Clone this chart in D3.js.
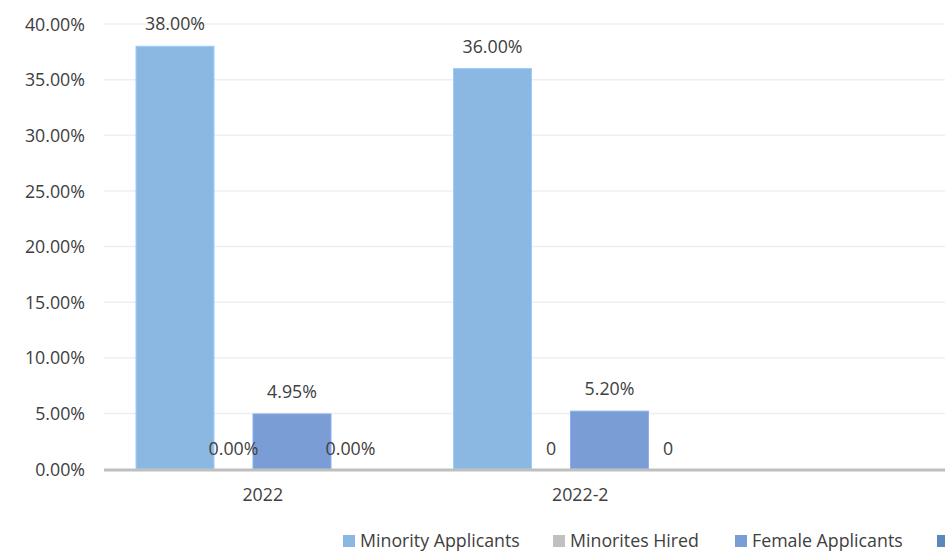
<!DOCTYPE html>
<html><head><meta charset="utf-8">
<script src="https://cdn.jsdelivr.net/npm/d3@7"></script>
<style>body{margin:0;background:#fff;overflow:hidden}svg{display:block}text{font-family:"Open Sans",sans-serif;fill:#404040}</style>
</head><body>
<script>
const categories = ["2022", "2022-2"];
const seriesNames = ["Minority Applicants", "Minorites Hired", "Female Applicants", "Females Hired"];
const seriesColors = ["#8bb8e2", "#c0c0c0", "#7b9dd5", "#5b87bd"];
const values = [
  [0.38, 0.0, 0.0495, 0.0],
  [0.36, 0.0, 0.052, 0.0]
];
const valueLabels = [
  ["38.00%", "0.00%", "4.95%", "0.00%"],
  ["36.00%", "0", "5.20%", "0"]
];
const yTicks = [0, 0.05, 0.10, 0.15, 0.20, 0.25, 0.30, 0.35, 0.40];

const W = 945, H = 552, FS = "17.8px";
const plotLeft = 104, plotTop = 24, plotBottom = 469, step = 317.5;
const svg = d3.select("body").append("svg").attr("width", W).attr("height", H);

const y = d3.scaleLinear().domain([0, 0.40]).range([plotBottom, plotTop]);
const x = d3.scaleBand().domain(categories).range([plotLeft, plotLeft + step * categories.length]).paddingInner(0).paddingOuter(0);
const barW = 78, overlapStep = 58.5;
const groupSpan = overlapStep * (seriesNames.length - 1) + barW;
const xs = d3.scaleLinear().domain([0, seriesNames.length - 1]).range([-groupSpan / 2 + barW / 2, groupSpan / 2 - barW / 2]);

// gridlines
svg.append("g").selectAll("line").data(yTicks.filter(t => t > 0)).join("line")
  .attr("x1", plotLeft).attr("x2", W).attr("y1", d => y(d)).attr("y2", d => y(d))
  .attr("stroke", "#efefef").attr("stroke-width", 1.5);

// y axis labels
const yAxis = d3.axisLeft(y).tickValues(yTicks).tickFormat(d3.format(".2%")).tickSize(0).tickPadding(0);
const ya = svg.append("g").attr("transform", `translate(${plotLeft - 19},0)`).call(yAxis);
ya.select(".domain").remove();
ya.selectAll("text").style("font-size", FS).attr("fill", "#404040").attr("dy", "0.35em").attr("font-family", null);

// bars
categories.forEach((c, ci) => {
  const cx = x(c) + x.bandwidth() / 2;
  const g = svg.append("g");
  seriesNames.forEach((s, si) => {
    const v = values[ci][si];
    const bx = cx + xs(si) - barW / 2;
    if (v > 0) {
      g.append("rect").attr("x", bx).attr("y", y(v)).attr("width", barW).attr("height", y(0) - y(v))
        .attr("fill", seriesColors[si]).attr("stroke", d3.color(seriesColors[si]).brighter(0.3)).attr("stroke-width", 1);
    }
  });
  seriesNames.forEach((s, si) => {
    const v = values[ci][si];
    g.append("text").attr("x", cx + xs(si)).attr("y", y(v) - (v > 0 ? 22 : 20)).attr("dy", "0.35em")
      .attr("text-anchor", "middle").style("font-size", FS).text(valueLabels[ci][si]);
  });
});

// x axis
svg.append("line").attr("x1", plotLeft).attr("x2", W).attr("y1", plotBottom + 1).attr("y2", plotBottom + 1)
  .attr("stroke", "#bfbfbf").attr("stroke-width", 3);
const xAxis = d3.axisBottom(x).tickSize(0).tickPadding(0);
const xa = svg.append("g").attr("transform", `translate(0,${plotBottom + 26})`).call(xAxis);
xa.select(".domain").remove();
xa.selectAll("text").style("font-size", FS).attr("fill", "#404040").attr("dy", "0.35em").attr("font-family", null);

// legend
const legendX = [343, 553, 735, 937];
const lg = svg.append("g");
seriesNames.forEach((s, i) => {
  lg.append("rect").attr("x", legendX[i]).attr("y", 535).attr("width", 12).attr("height", 12).attr("fill", seriesColors[i]);
  lg.append("text").attr("x", legendX[i] + 17).attr("y", 541).attr("dy", "0.35em").style("font-size", FS).text(s);
});
</script>
</body></html>
